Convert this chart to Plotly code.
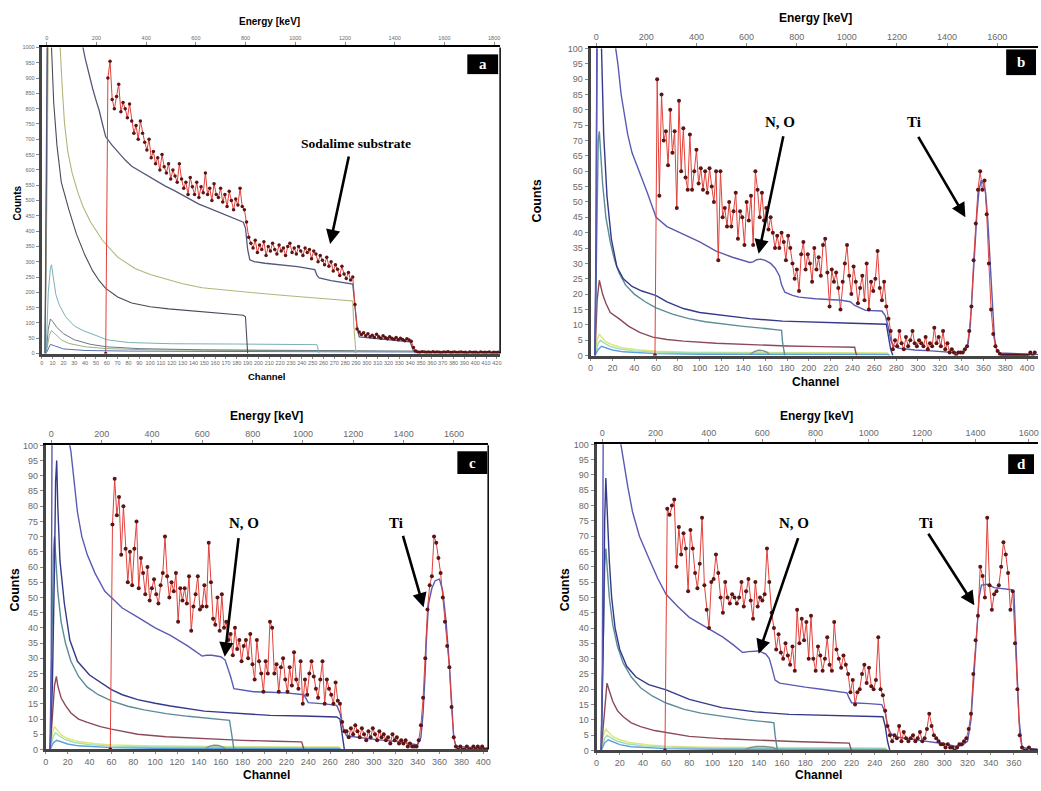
import plotly.graph_objects as go

W, H = 1041, 791

# ---------------- tick labels ----------------
a_channel_ticks = list(range(0, 421, 10))
bcd_channel_ticks = list(range(0, 401, 20))
a_energy_ticks = list(range(0, 1801, 200))
bcd_energy_ticks = list(range(0, 1601, 200))
a_count_ticks = list(range(0, 1001, 50))
bcd_count_ticks = list(range(0, 101, 5))

# ---------------- panel a (sodalime substrate) ----------------
a_exp = [0, 900, 955, 830, 800, 840, 880, 790, 820, 800,
         770, 815, 760, 720, 745, 700, 760, 720, 690, 665,
         700, 640, 660, 620, 640, 600, 650, 610, 590, 620,
         570, 600, 580, 560, 620, 570, 540, 560, 520, 575,
         545, 520, 560, 510, 545, 525, 590, 520, 540, 500,
         555, 520, 510, 540, 495, 520, 480, 530, 500, 470,
         505, 485, 540, 480, 470, 430, 380, 360, 345, 370,
         330, 355, 340, 365, 320, 350, 335, 360, 340, 325,
         355, 335, 345, 320, 350, 360, 330, 345, 325, 350,
         335, 320, 345, 330, 340, 310, 335, 325, 300, 320,
         305, 290, 315, 285, 300, 270, 290, 275, 255, 285,
         260, 245, 265, 240, 250, 160, 80, 70, 62, 68,
         58, 65, 55, 60, 52, 63, 55, 50, 58, 52,
         48, 55, 50, 47, 52, 45, 50, 46, 42, 48,
         44, 40, 20, 8, 5, 4, 6, 5, 4, 5,
         3, 6, 4, 5, 4, 3, 5, 4, 6, 3,
         4, 5, 3, 4, 5, 3, 4, 2, 5, 3,
         4, 4, 2, 5, 3, 4, 3, 5, 2, 4,
         3, 4]
a_exp_ch = list(range(59, 59 + 2 * len(a_exp), 2))

a_sim_ch = [3, 5, 6, 36, 38, 40, 42, 44, 47, 50, 53, 56, 59, 65, 71, 77, 83, 91, 99, 107, 114,
            122, 129, 137, 145, 152, 160, 168, 175, 181, 186, 188, 190, 192, 196, 206, 221,
            236, 252, 254, 256, 267, 287, 289, 291, 293, 313, 340, 343, 346, 380, 423]
a_sim = [0, 900, 1500, 1100, 1000, 965, 935, 905, 865, 828, 794, 750, 708, 680, 655, 632, 612,
         595, 579, 562, 547, 533, 520, 504, 488, 478, 467, 456, 445, 437, 429, 410, 340, 306,
         300, 295, 290, 284, 274, 255, 247, 238, 227, 150, 86, 54, 48, 38, 9, 5, 4, 3]
a_olive_ch = [3, 5, 7, 17, 19, 21, 24, 28, 33, 38, 45, 56, 70, 86, 100, 117, 130, 148, 175,
              203, 230, 260, 287, 288, 290]
a_olive = [0, 600, 1500, 1000, 860, 752, 660, 590, 530, 480, 430, 370, 315, 278, 258, 240,
           228, 215, 205, 196, 188, 180, 172, 90, 0]
a_dark_ch = [3, 5, 6, 9, 11, 14, 18, 25, 32, 40, 47, 53, 59, 70, 83, 100, 117, 135, 150, 170,
             186, 188, 190]
a_dark = [0, 800, 1500, 1000, 820, 680, 560, 470, 390, 320, 270, 238, 213, 185, 165, 153, 146,
          140, 135, 130, 125, 120, 0]
a_teal_ch = [4, 6, 8, 9, 11, 13, 16, 22, 30, 38, 53, 60, 80, 120, 180, 254, 256]
a_teal = [0, 200, 280, 290, 240, 193, 160, 120, 90, 75, 55, 45, 36, 32, 31, 29, 0]
a_gray_ch = [4, 6, 8, 10, 14, 20, 30, 45, 60, 90, 150, 250, 345, 347]
a_gray = [0, 80, 113, 105, 85, 65, 45, 30, 22, 16, 12, 10, 8, 0]
a_green_ch = [4, 7, 9, 12, 18, 25, 40, 60, 100, 200, 288, 290]
a_green = [0, 60, 75, 65, 45, 33, 22, 16, 12, 10, 9, 0]
a_blue_ch = [4, 8, 12, 20, 40, 80, 150, 250, 343, 345]
a_blue = [0, 30, 25, 15, 10, 8, 7, 6, 5, 0]

# ---------------- panel b ----------------
b_exp = [0, 90, 52, 85, 70, 73, 62, 80, 66, 73,
         48, 83, 60, 74, 58, 54, 72, 54, 60, 67,
         56, 61, 54, 60, 53, 61, 55, 50, 60, 31,
         60, 45, 48, 42, 50, 42, 47, 53, 38, 47,
         45, 36, 50, 44, 52, 36, 60, 54, 45, 53,
         44, 48, 41, 45, 40, 35, 39, 35, 40, 37,
         31, 39, 35, 30, 25, 28, 21, 33, 37, 28,
         33, 30, 24, 35, 28, 32, 26, 36, 38, 27,
         16, 28, 24, 27, 22, 15, 24, 30, 36, 26,
         20, 29, 24, 17, 22, 26, 18, 30, 15, 24,
         21, 25, 34, 22, 18, 24, 16, 12, 8, 2,
         5, 3, 8, 4, 2, 6, 3, 5, 8, 4,
         3, 5, 4, 3, 6, 2, 4, 3, 9, 4,
         6, 3, 8, 2, 4, 1, 2, 1, 0, 1,
         1, 1, 2, 3, 8, 16, 31, 43, 54, 60,
         54, 57, 46, 30, 15, 7, 3, 1.5, 0.5, 0,
         0, 0, 0, 0, 0, 0, 0, 0, 0, 0,
         0, 0, 1, 0, 1]
b_exp_ch = list(range(59, 59 + 2 * len(b_exp), 2))

b_sim_ch = [4, 5, 6, 8, 23, 25, 28, 31, 34, 38, 43, 48, 52, 56, 60, 70, 85, 100, 115, 130,
            146, 149, 152, 156, 160, 165, 169, 173, 175, 178, 185, 191, 206, 230, 238, 242,
            252, 267, 270, 273, 275, 277, 282, 297, 312, 327, 339, 343, 346, 348, 350, 352,
            354, 356, 358, 360, 362, 364, 366, 368, 370, 372, 375, 410]
b_sim = [0, 30, 130, 160, 100, 95, 85, 78, 72, 66, 61.5, 57, 53, 49, 45, 42, 39.5, 37, 34, 32,
         30.3, 30.5, 31.2, 31.4, 31, 30, 28.5, 26, 23, 20.6, 19.6, 19, 18.5, 18, 17.5, 16.3,
         14.7, 14.5, 13, 9, 5, 3.4, 2.4, 1.8, 1.5, 1.1, 0.8, 1.5, 4, 10, 22, 35, 46, 54, 57,
         56, 53, 44, 30, 16, 6, 2, 0.8, 0.3]
b_navy_ch = [4, 5, 6, 8, 10, 12, 15, 19, 24, 30, 38, 47, 56, 60, 70, 85, 100, 118, 146, 176,
             206, 240, 271, 273, 275, 277]
b_navy = [0, 40, 110, 130, 100, 72, 52, 38, 29, 25, 22.5, 21, 20, 19.5, 17.5, 15.3, 14, 13.2,
          12, 11.2, 10.8, 10.5, 10.2, 6, 2, 0]
b_teal_ch = [4, 6, 7, 8, 9, 11, 14, 18, 22, 26, 32, 40, 50, 60, 75, 90, 105, 120, 140, 160,
             172, 175, 176, 178]
b_teal = [0, 55, 70, 73, 68, 56, 45, 37, 31, 27, 23, 20, 17.5, 15.5, 13.5, 12, 11, 10.3, 9.5,
          8.8, 8.4, 8.2, 4, 0]
b_brown_ch = [4, 6, 8, 9, 11, 14, 18, 26, 35, 45, 57, 70, 85, 115, 146, 180, 210, 242, 243, 244]
b_brown = [0, 18, 24.5, 23, 20, 17, 14, 12, 9.5, 7.5, 6, 5.2, 4.7, 4, 3.5, 3.1, 2.9, 2.7, 1, 0]
b_yg_ch = [4, 6, 8, 10, 14, 20, 30, 45, 60, 90, 130, 180, 230, 272, 274]
b_yg = [0, 5, 7, 6, 4.5, 3.5, 2.5, 1.8, 1.4, 1.1, 1.0, 0.9, 0.8, 0.8, 0]
b_lg_ch = [4, 7, 9, 12, 18, 26, 40, 60, 100, 150, 200, 272, 274]
b_lg = [0, 4, 5, 4.2, 3, 2.2, 1.5, 1.1, 0.8, 0.7, 0.6, 0.6, 0]
b_lb_ch = [4, 7, 10, 14, 20, 30, 45, 60, 100, 150, 200, 272, 274]
b_lb = [0, 2, 3, 2.5, 1.8, 1.2, 0.8, 0.6, 0.4, 0.35, 0.3, 0.3, 0]
b_gb_ch = [146, 150, 154, 158, 162, 164]
b_gb = [0.3, 1.3, 1.7, 1.6, 1.0, 0.2]

# ---------------- panel c ----------------
c_exp = [0, 74, 89, 77, 83, 64, 80, 66, 55, 65,
         54, 66, 75, 53, 63, 58, 51, 60, 49, 53,
         56, 51, 48, 54, 58, 70, 57, 50, 55, 52,
         58, 42, 53, 49, 53, 48, 57, 39, 47, 51,
         57, 46, 47, 54, 47, 68, 55, 43, 41, 50,
         39, 51, 40, 42, 36, 38, 31, 40, 33, 36,
         29, 34, 36, 30, 38, 28, 23, 36, 29, 25,
         19, 29, 25, 42, 40, 25, 28, 19, 27, 30,
         23, 19, 27, 21, 32, 23, 20, 29, 15, 23,
         18, 25, 29, 24, 20, 17, 23, 29, 15, 23,
         20, 18, 15, 22, 16, 15, 9, 6, 6, 4,
         7, 5, 8, 6, 4, 7, 5, 3, 6, 4,
         7, 5, 3, 6, 4, 5, 3, 4, 2, 5,
         3, 4, 2, 3, 2, 3, 1, 2, 1, 1,
         1, 3, 8, 17, 30, 46, 54, 57, 70, 68,
         63, 58, 50, 42, 34, 27, 14, 4, 1, 0,
         1, 0, 0, 1, 0, 0, 1, 0, 1, 0,
         1, 0, 0]
c_exp_ch = list(range(59, 59 + 2 * len(c_exp), 2))

c_sim_ch = [4, 5, 6, 8, 22, 23, 26, 29, 33, 38, 45, 54, 60, 70, 84, 100, 114, 130, 143, 147,
            152, 156, 160, 164, 167, 169, 172, 180, 190, 205, 220, 236, 238, 240, 255, 266,
            269, 272, 275, 285, 296, 326, 340, 343, 345, 347, 348, 350, 353, 356, 360, 363,
            366, 369, 371, 373, 375, 405]
c_sim = [0, 30, 130, 160, 100, 98, 88, 78, 70, 64, 58, 52, 50, 46.5, 43.5, 40, 37.5, 34, 30.7,
         31, 31, 30.8, 30.5, 29.4, 26.5, 24, 20, 19.5, 19, 18.8, 18.6, 18, 16.5, 15.4, 15,
         14.5, 12, 6.7, 4.5, 4, 3.5, 2.4, 1.5, 4, 12, 26, 36, 48, 53, 55.5, 56, 52, 42, 28,
         14, 4, 1, 0.3]
c_navy_ch = [4, 6, 8, 9, 10, 11, 13, 17, 22, 29, 40, 54, 60, 70, 84, 100, 114, 145, 175, 205,
             235, 266, 269, 271, 273]
c_navy = [0, 20, 60, 88, 95, 80, 62, 48, 36, 29, 24.5, 21, 19.7, 18, 16.4, 15.2, 14.3, 12.6,
          11.9, 11.2, 11, 10.7, 10, 4, 0]
c_teal_ch = [4, 6, 7, 8, 9, 11, 14, 18, 23, 30, 38, 48, 60, 75, 90, 110, 130, 150, 168, 170, 172]
c_teal = [0, 45, 65, 70, 64, 52, 42, 35, 29, 24, 20.5, 18, 16, 14.2, 13, 11.8, 10.9, 10.2, 9.6,
          5, 0]
c_brown_ch = [4, 6, 8, 9.7, 11, 14, 18, 23, 30, 38, 50, 60, 84, 110, 145, 180, 210, 234, 236]
c_brown = [0, 12, 21, 24, 21, 17, 14.5, 12, 10, 8.9, 7.5, 6.7, 5, 4.2, 3.5, 3, 2.7, 2.5, 0]
c_yg_ch = [4, 6, 8, 10, 14, 20, 30, 45, 60, 90, 130, 180, 230, 268, 270]
c_yg = [0, 5, 7.5, 6.5, 4.8, 3.6, 2.6, 1.9, 1.5, 1.2, 1.0, 0.9, 0.8, 0.8, 0]
c_lg_ch = [4, 7, 9, 12, 18, 26, 40, 60, 100, 150, 200, 268, 270]
c_lg = [0, 4.5, 5.5, 4.5, 3.2, 2.3, 1.6, 1.1, 0.8, 0.7, 0.6, 0.6, 0]
c_lb_ch = [4, 7, 10, 14, 20, 30, 45, 60, 100, 150, 200, 268, 270]
c_lb = [0, 2.2, 3, 2.5, 1.8, 1.2, 0.8, 0.6, 0.4, 0.35, 0.3, 0.3, 0]
c_gb_ch = [146, 150, 154, 158, 162, 165]
c_gb = [0.3, 1.1, 1.4, 1.3, 0.8, 0.2]

# ---------------- panel d ----------------
d_exp = [0, 79, 77, 80, 82, 60, 73, 64, 71, 66,
         52, 72, 66, 58, 53, 61, 76, 54, 46, 40,
         55, 56, 64, 58, 50, 45, 55, 50, 48, 51,
         50, 48, 50, 55, 47, 52, 56, 49, 43, 55,
         47, 50, 49, 51, 66, 55, 45, 40, 33, 38,
         32, 30, 35, 31, 28, 34, 26, 46, 35, 43,
         36, 42, 30, 44, 30, 26, 34, 31, 26, 30,
         37, 28, 26, 42, 33, 30, 27, 31, 28, 25,
         19, 23, 15, 19, 20, 25, 28, 22, 27, 21,
         20, 23, 37, 20, 18, 13, 8, 5, 3, 5,
         4, 8, 3, 6, 4, 3, 4, 5, 3, 4,
         6, 3, 4, 7, 12, 8, 5, 4, 3, 2,
         2, 1, 2, 1, 1, 0, 1, 2, 2, 3,
         4, 7, 12, 25, 36, 44, 60, 57, 50, 76,
         54, 46, 51, 52, 54, 60, 68, 64, 58, 46,
         52, 35, 20, 5, 1, 0, 0, 1, 0, 0,
         0]
d_exp_ch = list(range(59, 59 + 2 * len(d_exp), 2))

d_sim_ch = [4, 5, 6, 8, 21, 23, 27, 31, 37, 46, 53, 60, 70, 80, 95, 109, 118, 126, 131, 140,
            146, 149, 151, 154, 158, 166, 180, 194, 205, 216, 218, 220, 235, 246, 249, 251,
            254, 260, 280, 300, 309, 315, 320, 323, 326, 328, 330, 332, 337, 343, 349, 354,
            358, 360, 361.5, 363, 364.5, 367, 381]
d_sim = [0, 30, 130, 160, 100, 95, 86, 78, 70, 62, 56, 51, 47, 43.5, 40, 37, 34.5, 32, 32.3,
         32.5, 31.5, 30, 27.4, 23, 22, 21.5, 20.7, 20, 19.5, 18.8, 17, 15.6, 15.3, 15, 12.4, 8,
         5.4, 4.3, 3.2, 2.2, 1.4, 1.6, 3, 10, 27, 40, 50, 54, 54.3, 53.2, 53, 52.7, 52.5, 52,
         40, 23, 10, 1, 0.3]
d_navy_ch = [4, 6, 7, 8, 9, 11, 13, 16, 20, 26, 34, 45, 60, 80, 108, 137, 166, 194, 223, 247,
             249, 251, 253]
d_navy = [0, 40, 75, 89, 80, 62, 50, 40, 33, 27.5, 24, 21.5, 19.8, 16.7, 14, 12.6, 11.8, 11.5,
          11.3, 11, 8, 3, 0]
d_teal_ch = [4, 6, 7, 8, 9, 11, 14, 18, 23, 30, 38, 48, 60, 75, 90, 110, 130, 150, 153, 154, 156]
d_teal = [0, 40, 60, 66, 60, 50, 41, 34, 28.5, 24, 20.5, 17.8, 15.5, 13.5, 12.2, 11, 10, 9.2,
          9, 5, 0]
d_brown_ch = [4, 6, 8, 9, 11, 14, 18, 23, 30, 38, 50, 60, 80, 110, 140, 170, 200, 218, 219, 220]
d_brown = [0, 10, 19, 22, 19.5, 16, 13, 11, 9, 7.8, 6.5, 5.8, 4.6, 3.8, 3.3, 2.9, 2.6, 2.4, 1, 0]
d_yg_ch = [4, 6, 8, 10, 14, 20, 30, 45, 60, 90, 130, 180, 230, 249, 251]
d_yg = [0, 5, 7, 6, 4.5, 3.5, 2.5, 1.8, 1.4, 1.1, 1.0, 0.9, 0.8, 0.8, 0]
d_lg_ch = [4, 7, 9, 12, 18, 26, 40, 60, 100, 150, 200, 249, 251]
d_lg = [0, 4, 5, 4.2, 3, 2.2, 1.5, 1.1, 0.8, 0.7, 0.6, 0.6, 0]
d_lb_ch = [4, 7, 10, 14, 20, 30, 45, 60, 100, 150, 200, 249, 251]
d_lb = [0, 2.5, 3.5, 2.8, 1.9, 1.2, 0.8, 0.6, 0.4, 0.35, 0.3, 0.3, 0]
d_gb_ch = [128, 133, 138, 145, 152, 156]
d_gb = [0.3, 1.0, 1.3, 1.3, 1.0, 0.2]

# ---------------- styles ----------------
EXP_LINE = '#e2403a'
EXP_MK = '#5c1414'
SIM = '#5a5ab4'
NAVY = '#34398a'
TEAL = '#5b8c98'
BROWN = '#8c4a58'
YG = '#dde676'
LG = '#9fe0b4'
LB = '#5f9ee0'
GB = '#7f9088'

fig = go.Figure()


def add_line(xa, ya, ch, vals, color, width=1.3):
    fig.add_trace(go.Scatter(x=ch, y=vals, mode='lines', xaxis=xa, yaxis=ya,
                             line=dict(color=color, width=width), showlegend=False,
                             hoverinfo='skip'))


def add_exp(xa, ya, ch, vals, msize=4):
    fig.add_trace(go.Scatter(x=ch, y=vals, mode='lines+markers', xaxis=xa, yaxis=ya,
                             line=dict(color=EXP_LINE, width=1),
                             marker=dict(color=EXP_MK, size=msize), showlegend=False,
                             hoverinfo='skip'))


# panel a
add_line('x', 'y', a_blue_ch, a_blue, '#5a70b0', 1)
add_line('x', 'y', a_green_ch, a_green, '#9ab080', 1)
add_line('x', 'y', a_gray_ch, a_gray, '#6a7a80', 1)
add_line('x', 'y', a_teal_ch, a_teal, '#7ab0b8', 1)
add_line('x', 'y', a_dark_ch, a_dark, '#4a4a5a', 1.1)
add_line('x', 'y', a_olive_ch, a_olive, '#b4b47a', 1.1)
add_line('x', 'y', a_sim_ch, a_sim, '#55587a', 1.3)
add_exp('x', 'y', a_exp_ch, a_exp, 3.5)

# panels b, c, d
for xa, ya, comps, exp_ch, exp in [
    ('x2', 'y2', [(b_yg_ch, b_yg, YG), (b_lg_ch, b_lg, LG), (b_lb_ch, b_lb, LB),
                  (b_gb_ch, b_gb, GB), (b_brown_ch, b_brown, BROWN),
                  (b_teal_ch, b_teal, TEAL), (b_navy_ch, b_navy, NAVY),
                  (b_sim_ch, b_sim, SIM)], b_exp_ch, b_exp),
    ('x3', 'y3', [(c_yg_ch, c_yg, YG), (c_lg_ch, c_lg, LG), (c_lb_ch, c_lb, LB),
                  (c_gb_ch, c_gb, GB), (c_brown_ch, c_brown, BROWN),
                  (c_teal_ch, c_teal, TEAL), (c_navy_ch, c_navy, NAVY),
                  (c_sim_ch, c_sim, SIM)], c_exp_ch, c_exp),
    ('x4', 'y4', [(d_yg_ch, d_yg, YG), (d_lg_ch, d_lg, LG), (d_lb_ch, d_lb, LB),
                  (d_gb_ch, d_gb, GB), (d_brown_ch, d_brown, BROWN),
                  (d_teal_ch, d_teal, TEAL), (d_navy_ch, d_navy, NAVY),
                  (d_sim_ch, d_sim, SIM)], d_exp_ch, d_exp),
]:
    for ch, vals, col in comps:
        add_line(xa, ya, ch, vals, col, 1.4)
    add_exp(xa, ya, exp_ch, exp, 4)

# invisible traces to register energy (top) axes
for xa, ya in [('x5', 'y'), ('x6', 'y2'), ('x7', 'y3'), ('x8', 'y4')]:
    fig.add_trace(go.Scatter(x=[], y=[], xaxis=xa, yaxis=ya, showlegend=False,
                             hoverinfo='skip'))

# ---------------- axes ----------------
TICKC = '#6a6a6a'
FONT = 'Liberation Sans'


def px_x(p):
    return p / W


def px_y(p):
    return 1 - p / H


def chan_axis(x0, x1, rng, ticks, fs, anchor):
    return dict(domain=[px_x(x0), px_x(x1)], range=rng, anchor=anchor, tickmode='array',
                tickvals=ticks, ticks='outside', ticklen=2, tickwidth=1, tickcolor='#888',
                tickangle=0, tickfont=dict(size=fs, color=TICKC, family=FONT),
                showline=True, linecolor='#454545', linewidth=3, showgrid=False,
                zeroline=False)


def count_axis(y0, y1, rng, ticks, fs, anchor):
    return dict(domain=[px_y(y1), px_y(y0)], range=rng, anchor=anchor, tickmode='array',
                tickvals=ticks, ticks='outside', ticklen=3, tickwidth=1, tickcolor='#888',
                tickfont=dict(size=fs, color=TICKC, family=FONT), showline=True,
                linecolor='#454545', linewidth=3, showgrid=False, zeroline=False)


def energy_axis(over, anchor, rng, ticks, fs):
    return dict(overlaying=over, anchor=anchor, side='top', range=rng, tickmode='array',
                tickvals=ticks, ticks='outside', ticklen=3, tickwidth=1, tickcolor='#888',
                tickangle=0, tickfont=dict(size=fs, color=TICKC, family=FONT),
                showline=True, linecolor='black', linewidth=2, showgrid=False,
                zeroline=False)


fig.update_layout(
    xaxis=chan_axis(39, 500, [0, 423], a_channel_ticks, 5.5, 'y'),
    yaxis=count_axis(43, 353, [0, 1000], a_count_ticks, 5.5, 'x'),
    xaxis2=chan_axis(591, 1041, [0, 410], bcd_channel_ticks, 9, 'y2'),
    yaxis2=count_axis(44, 355, [0, 100], bcd_count_ticks, 9, 'x2'),
    xaxis3=chan_axis(43, 488, [0, 404.5], bcd_channel_ticks, 9, 'y3'),
    yaxis3=count_axis(446, 754, [0, 100], bcd_count_ticks, 9, 'x3'),
    xaxis4=chan_axis(597, 1041, [0, 380.8], bcd_channel_ticks, 9, 'y4'),
    yaxis4=count_axis(445, 755, [0, 100], bcd_count_ticks, 9, 'x4'),
    xaxis5=energy_axis('x', 'y', [-20, 1824], a_energy_ticks, 5.5),
    xaxis6=energy_axis('x2', 'y2', [-22.6, 1762.7], bcd_energy_ticks, 9),
    xaxis7=energy_axis('x3', 'y3', [-22.1, 1736], bcd_energy_ticks, 9),
    xaxis8=energy_axis('x4', 'y4', [-21.3, 1634.7], bcd_energy_ticks, 9),
)

# ---------------- shapes ----------------
shapes = [
    dict(type='line', xref='x domain', yref='y domain', x0=1, x1=1, y0=0, y1=1,
         line=dict(color='black', width=1.5)),
    dict(type='line', xref='x3 domain', yref='y3 domain', x0=1, x1=1, y0=0, y1=1,
         line=dict(color='black', width=1.5)),
]
letter_boxes = [('a', 467, 498, 50, 70), ('b', 1009, 1039, 45, 71),
                ('c', 457, 487, 452, 475), ('d', 1011, 1037, 455, 475)]
for _, x0, x1, y0, y1 in letter_boxes:
    shapes.append(dict(type='rect', xref='paper', yref='paper', x0=px_x(x0), x1=px_x(x1),
                       y0=px_y(y1), y1=px_y(y0), fillcolor='black', line=dict(width=0)))

# ---------------- annotations ----------------
ann = []


def text(t, x, y, size, color='black', family=FONT, angle=0, bold=True):
    ann.append(dict(text=('<b>%s</b>' % t) if bold else t, x=px_x(x), y=px_y(y),
                    xref='paper', yref='paper', showarrow=False, xanchor='center',
                    yanchor='middle', textangle=angle,
                    font=dict(size=size, color=color, family=family)))


for letter, x0, x1, y0, y1 in letter_boxes:
    text(letter, (x0 + x1) / 2, (y0 + y1) / 2, 15, 'white', 'Liberation Serif')

# axis titles
text('Counts', 15, 200, 10, angle=-90)
text('Channel', 265, 376, 9.5)
text('Energy [keV]', 268, 17, 10)
text('Counts', 538, 198, 12.5, angle=-90)
text('Channel', 817, 382, 12)
text('Energy [keV]', 817, 13, 12)
text('Counts', 12, 592, 12.5, angle=-90)
text('Channel', 265, 780, 12)
text('Energy [keV]', 265, 416, 12)
text('Counts', 565, 592, 12.5, angle=-90)
text('Channel', 820, 780, 12)
text('Energy [keV]', 818, 416, 12)

# labels on peaks
SERIF = 'Liberation Serif'
text('Sodalime substrate', 355, 140, 13.5, family=SERIF)
text('N, O', 782, 118, 15, family=SERIF)
text('Ti', 916, 118, 15, family=SERIF)
text('N, O', 242, 525, 15, family=SERIF)
text('Ti', 395, 525, 15, family=SERIF)
text('N, O', 796, 525, 15, family=SERIF)
text('Ti', 928, 525, 15, family=SERIF)

# arrows (head x, head y, tail x, tail y in pixels)
arrows = [(329, 242, 348, 153), (760, 252, 785, 133), (968, 215, 920, 133),
          (223, 660, 237, 540), (423, 610, 402, 537), (760, 657, 800, 540),
          (977, 608, 930, 535)]
for hx, hy, tx, ty in arrows:
    ann.append(dict(text='', x=px_x(hx), y=px_y(hy), xref='paper', yref='paper',
                    showarrow=True, ax=tx - hx, ay=ty - hy, axref='pixel', ayref='pixel',
                    arrowhead=2, arrowsize=1.1, arrowwidth=2.6, arrowcolor='black'))

fig.update_layout(width=W, height=H, margin=dict(l=0, r=0, t=0, b=0),
                  paper_bgcolor='white', plot_bgcolor='white', shapes=shapes,
                  annotations=ann, showlegend=False)

fig.write_html('out.html', config={'displayModeBar': False},
               post_script="document.body.style.margin='0';"
                           "document.body.style.overflow='hidden';"
                           "document.documentElement.style.overflow='hidden';")
